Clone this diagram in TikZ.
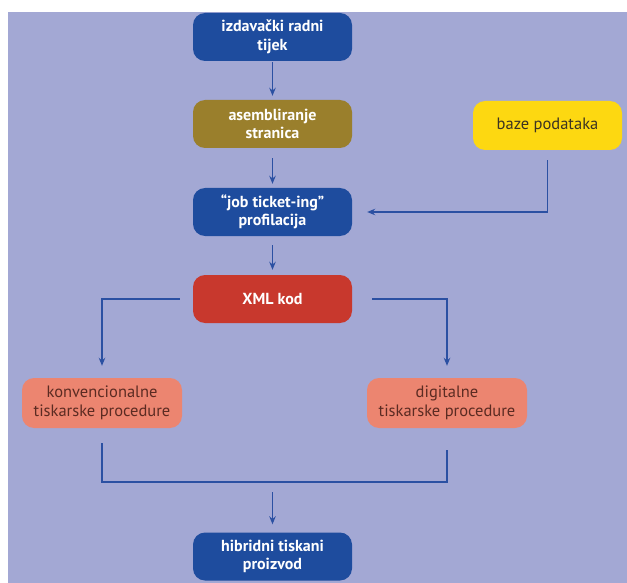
\documentclass[tikz,border=0pt]{standalone}
\usepackage{fontspec}
\setmainfont{PT Sans}
\usetikzlibrary{arrows.meta}
\definecolor{bgc}{HTML}{A3A8D4}
\definecolor{dblue}{HTML}{1E4C9E}
\definecolor{olive}{HTML}{9A7F2C}
\definecolor{yel}{HTML}{FDD811}
\definecolor{redc}{HTML}{C8382D}
\definecolor{salm}{HTML}{EC8570}
\definecolor{linec}{HTML}{2B50A2}
\definecolor{salmtext}{HTML}{5B2B22}
\definecolor{yeltext}{HTML}{3B3322}
\tikzset{
  box/.style={rounded corners=12pt, minimum width=159pt, minimum height=48pt, align=center, inner sep=2pt},
  wtext/.style={text=white, font=\bfseries\fontsize{16}{18.5}\selectfont},
  dtext/.style={font=\fontsize{16.5}{18.5}\selectfont},
  bluebox/.style={box, wtext, fill=dblue},
  olivebox/.style={box, wtext, fill=olive},
  yelbox/.style={box, dtext, fill=yel, text=yeltext, minimum width=149pt, minimum height=49pt},
  redbox/.style={box, wtext, fill=redc},
  salmbox/.style={box, dtext, fill=salm, text=salmtext, minimum width=160pt, minimum height=50pt},
  conn/.style={draw=linec, line width=1.3pt},
  arr/.style={conn, -{Stealth[length=8pt,width=6.5pt]}}
}
\begin{document}
\begin{tikzpicture}[x=1pt,y=-1pt]
\useasboundingbox (0,0) rectangle (627,583);
\fill[white] (0,0) rectangle (627,583);
\fill[bgc] (8,12) rectangle (627,583);
\node[bluebox] (izd) at (272.5,37) {izdavački radni\\tijek};
\node[olivebox] (asm) at (272.5,124) {asembliranje\\stranica};
\node[yelbox] (baze) at (547.5,125.5) {baze podataka};
\node[bluebox] (job) at (272.5,212) {“job ticket-ing”\\profilacija};
\node[redbox] (xml) at (272.5,299) {XML kod};
\node[salmbox] (konv) at (102,403) {konvencionalne\\tiskarske procedure};
\node[salmbox] (dig) at (447,403) {digitalne\\tiskarske procedure};
\node[bluebox] (hib) at (272.5,556.5) {hibridni tiskani\\proizvod};
\coordinate (j) at (272.5,482);
\draw[arr] ([yshift=-1pt]izd.south) -- ([yshift=4pt]asm.north);
\draw[arr] ([yshift=-10pt]asm.south) -- ([yshift=4pt]job.north);
\draw[arr] ([yshift=-10pt]baze.south) |- ([xshift=15pt]job.east);
\draw[arr] ([yshift=-9pt]job.south) -- ([yshift=5pt]xml.north);
\draw[arr] ([xshift=-13pt]xml.west) -| ([yshift=12pt]konv.north);
\draw[arr] ([xshift=20pt]xml.east) -| ([yshift=12pt]dig.north);
\draw[conn] ([yshift=-15pt]konv.south) |- (j) -| ([yshift=-22pt]dig.south);
\draw[arr] ([yshift=-10pt]j) -- ([yshift=8pt]hib.north);
\end{tikzpicture}
\end{document}
